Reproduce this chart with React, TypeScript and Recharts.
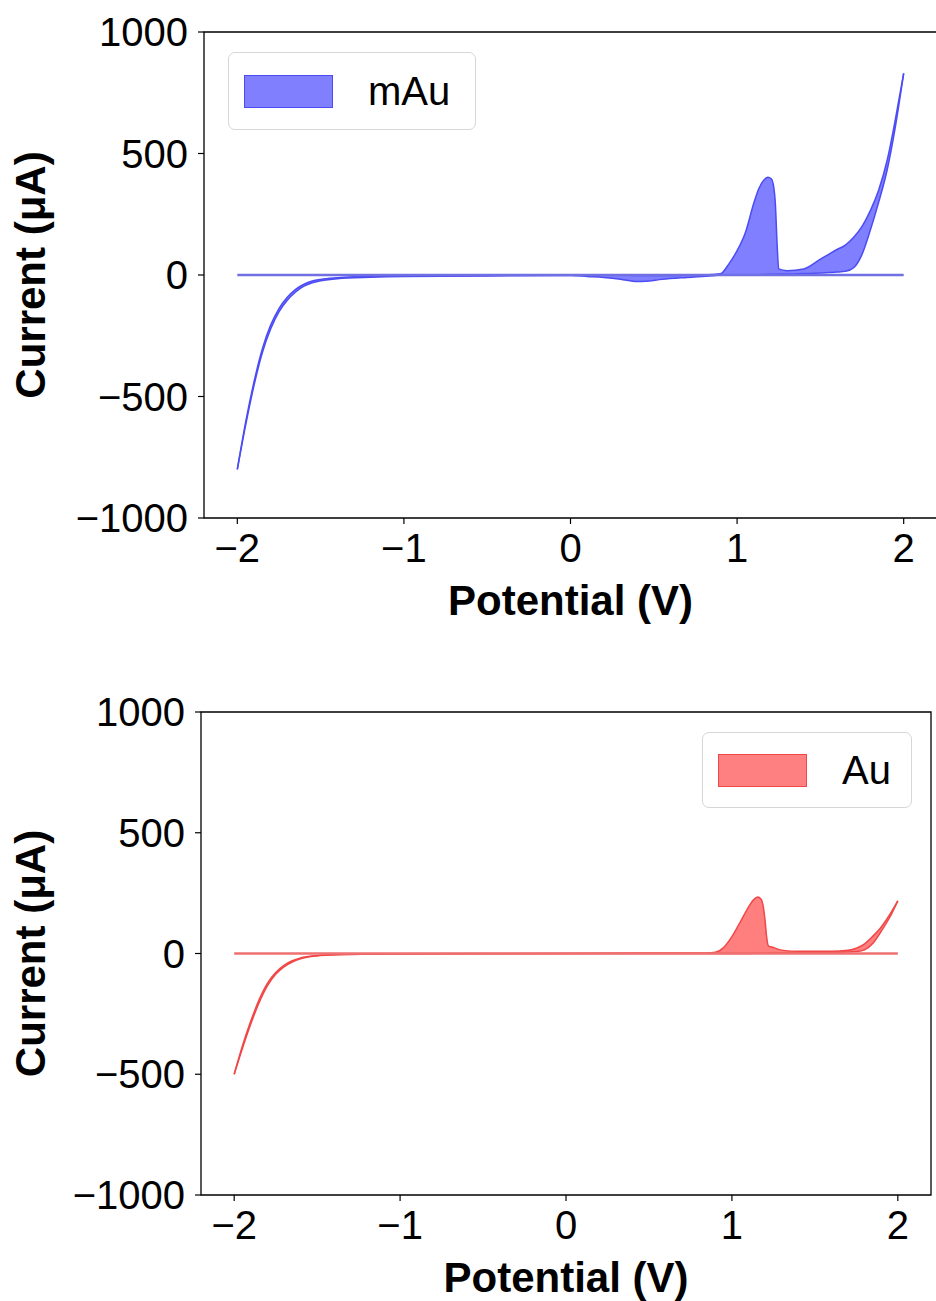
import {
  ComposedChart,
  Area,
  XAxis,
  YAxis,
  ReferenceLine,
  ReferenceArea,
  Legend,
} from "recharts";

const FONT = '"Liberation Sans", Arial, sans-serif';

// mAu voltammogram: lower and upper branch of the loop
const potentialMAu = [
  -2.0, -1.95, -1.9, -1.85, -1.8, -1.75, -1.7, -1.65, -1.6, -1.55, -1.5, -1.4,
  -1.2, -1.0, -0.5, 0.0, 0.1, 0.2, 0.3, 0.4, 0.45, 0.55, 0.7, 0.85, 0.9, 0.95,
  1.0, 1.05, 1.1, 1.13, 1.16, 1.185, 1.205, 1.22, 1.23, 1.24, 1.25, 1.3, 1.4,
  1.5, 1.55, 1.6, 1.65, 1.7, 1.75, 1.8, 1.85, 1.9, 1.95, 2.0,
];
const mAuLower = [
  -800, -618, -455, -320, -222, -152, -104, -70, -46, -32, -24, -15, -9, -6,
  -4, -2, -6, -10, -17, -27, -26, -18, -10, -3, 0, 0, 0, 0, 0, 1, 2, 3, 3, 3,
  3, 3, 4, 4, 6, 8, 10, 12, 15, 30, 85, 185, 300, 430, 610, 830,
];
const mAuUpper = [
  -800, -606, -440, -304, -206, -138, -92, -59, -38, -25, -18, -11, -5, -4, -2,
  0, 0, 0, 0, -2, -2, -2, -1, 2, 5, 45, 100, 175, 295, 355, 390, 402, 396, 362,
  290, 130, 25, 18, 25, 65, 85, 105, 123, 155, 200, 265, 350, 470, 640, 830,
];

// Au voltammogram
const potentialAu = [
  -2.0, -1.95, -1.9, -1.85, -1.8, -1.75, -1.7, -1.65, -1.6, -1.5, -1.4, -1.2,
  -1.0, 0.0, 0.5, 0.85, 0.9, 0.95, 1.0, 1.05, 1.1, 1.13, 1.155, 1.175, 1.19,
  1.2, 1.21, 1.22, 1.25, 1.3, 1.4, 1.6, 1.7, 1.75, 1.8, 1.85, 1.9, 1.95, 2.0,
];
const auLower = [
  -500, -392, -292, -204, -134, -86, -55, -35, -22, -10, -6, -3, -2, 0, 0, 0,
  0, 0, 0, 0, 0, 1, 1, 1, 2, 2, 2, 2, 3, 3, 4, 5, 6, 8, 15, 42, 92, 148, 218,
];
const auUpper = [
  -500, -382, -280, -192, -124, -79, -49, -30, -18, -8, -4, -2, -1, 0, 2, 2, 5,
  25, 70, 130, 192, 222, 234, 226, 190, 135, 65, 32, 25, 14, 9, 9, 13, 22, 40,
  72, 110, 160, 218,
];

const potentialTicks = [-2, -1, 0, 1, 2];
const currentTicks = [-1000, -500, 0, 500, 1000];

type Row = { potential: number; low: number; high: number };

function buildRows(xs: number[], lo: number[], hi: number[]): Row[] {
  return xs.map((x, i) => ({ potential: x, low: lo[i], high: hi[i] }));
}

const formatTick = (v: number) => (v < 0 ? `\u2212${Math.abs(v)}` : String(v));

type LegendBoxProps = {
  name: string;
  fill: string;
  edge: string;
  width: number;
  height: number;
};

function LegendBox({ name, fill, edge, width, height }: LegendBoxProps) {
  return (
    <div
      style={{
        boxSizing: "border-box",
        width,
        height,
        border: "1.5px solid #d6d6d6",
        borderRadius: 7,
        background: "rgba(255,255,255,0.85)",
        display: "flex",
        alignItems: "center",
        paddingLeft: 15,
        fontFamily: FONT,
        fontSize: 40,
        color: "#000",
      }}
    >
      <span
        style={{
          display: "inline-block",
          boxSizing: "border-box",
          width: 89,
          height: 33,
          background: fill,
          border: `1.5px solid ${edge}`,
        }}
      />
      <span style={{ marginLeft: 35, lineHeight: 1 }}>{name}</span>
    </div>
  );
}

type PanelProps = {
  rows: Row[];
  name: string;
  color: string;
  edge: string;
  zeroColor: string;
  legendFill: string;
  top: number;
  height: number;
  yAxisWidth: number;
  marginRight: number;
  legend: { left: number; top: number; width: number; height: number };
};

function CvPanel({
  rows,
  name,
  color,
  edge,
  zeroColor,
  legendFill,
  top,
  height,
  yAxisWidth,
  marginRight,
  legend,
}: PanelProps) {
  const tickStyle = { fill: "#000", fontSize: 40, fontFamily: FONT };
  const tickLine = { stroke: "#000", strokeWidth: 1.2 };
  return (
    <div style={{ position: "absolute", left: 0, top }}>
      <ComposedChart
        width={940}
        height={height}
        data={rows}
        margin={{ top: 32, right: marginRight, bottom: 0, left: 0 }}
      >
        <XAxis
          type="number"
          dataKey="potential"
          domain={[-2.2, 2.2]}
          ticks={potentialTicks}
          allowDataOverflow
          interval={0}
          axisLine={false}
          tickLine={tickLine}
          tickSize={6}
          tickMargin={10}
          tick={tickStyle}
          tickFormatter={formatTick}
          height={112}
          label={{
            value: "Potential (V)",
            position: "insideBottom",
            offset: 15,
            fill: "#000",
            fontSize: 42,
            fontWeight: "bold",
            fontFamily: FONT,
          }}
        />
        <YAxis
          type="number"
          domain={[-1000, 1000]}
          ticks={currentTicks}
          allowDataOverflow
          interval={0}
          width={yAxisWidth}
          axisLine={false}
          tickLine={tickLine}
          tickSize={6}
          tickMargin={10}
          tick={tickStyle}
          tickFormatter={formatTick}
          label={{
            value: "Current (μA)",
            angle: -90,
            position: "insideLeft",
            offset: 30,
            fill: "#000",
            fontSize: 42,
            fontWeight: "bold",
            fontFamily: FONT,
            style: { textAnchor: "middle" },
          }}
        />
        <ReferenceLine
          segment={[
            { x: rows[0].potential, y: 0 },
            { x: rows[rows.length - 1].potential, y: 0 },
          ]}
          stroke={zeroColor}
          strokeWidth={2.5}
        />
        <Area
          type="monotone"
          name={name}
          dataKey={(r: Row) => [r.low, r.high]}
          fill={color}
          fillOpacity={0.5}
          stroke={edge}
          strokeWidth={1.5}
          isAnimationActive={false}
        />
        <ReferenceArea
          x1={-2.2}
          x2={2.2}
          y1={-1000}
          y2={1000}
          fill="none"
          stroke="#000"
          strokeWidth={1.3}
          ifOverflow="visible"
        />
        <Legend
          layout="vertical"
          align="center"
          verticalAlign="middle"
          wrapperStyle={{
            left: legend.left,
            top: legend.top,
            width: legend.width,
            height: legend.height,
          }}
          content={() => (
            <LegendBox
              name={name}
              fill={legendFill}
              edge={edge}
              width={legend.width}
              height={legend.height}
            />
          )}
        />
      </ComposedChart>
    </div>
  );
}

export default function App() {
  return (
    <div
      style={{
        position: "absolute",
        left: 0,
        top: 0,
        width: 936,
        height: 1301,
        overflow: "hidden",
        background: "#fff",
      }}
    >
      <CvPanel
        rows={buildRows(potentialMAu, mAuLower, mAuUpper)}
        name="mAu"
        color="#0000ff"
        edge="#4c4cf5"
        zeroColor="#7070e4"
        legendFill="#8080ff"
        top={0}
        height={630}
        yAxisWidth={204}
        marginRight={3}
        legend={{ left: 228, top: 52, width: 248, height: 78 }}
      />
      <CvPanel
        rows={buildRows(potentialAu, auLower, auUpper)}
        name="Au"
        color="#ff0000"
        edge="#f04848"
        zeroColor="#ee7070"
        legendFill="#ff8080"
        top={680}
        height={627}
        yAxisWidth={201}
        marginRight={9}
        legend={{ left: 702, top: 52, width: 210, height: 76 }}
      />
    </div>
  );
}
